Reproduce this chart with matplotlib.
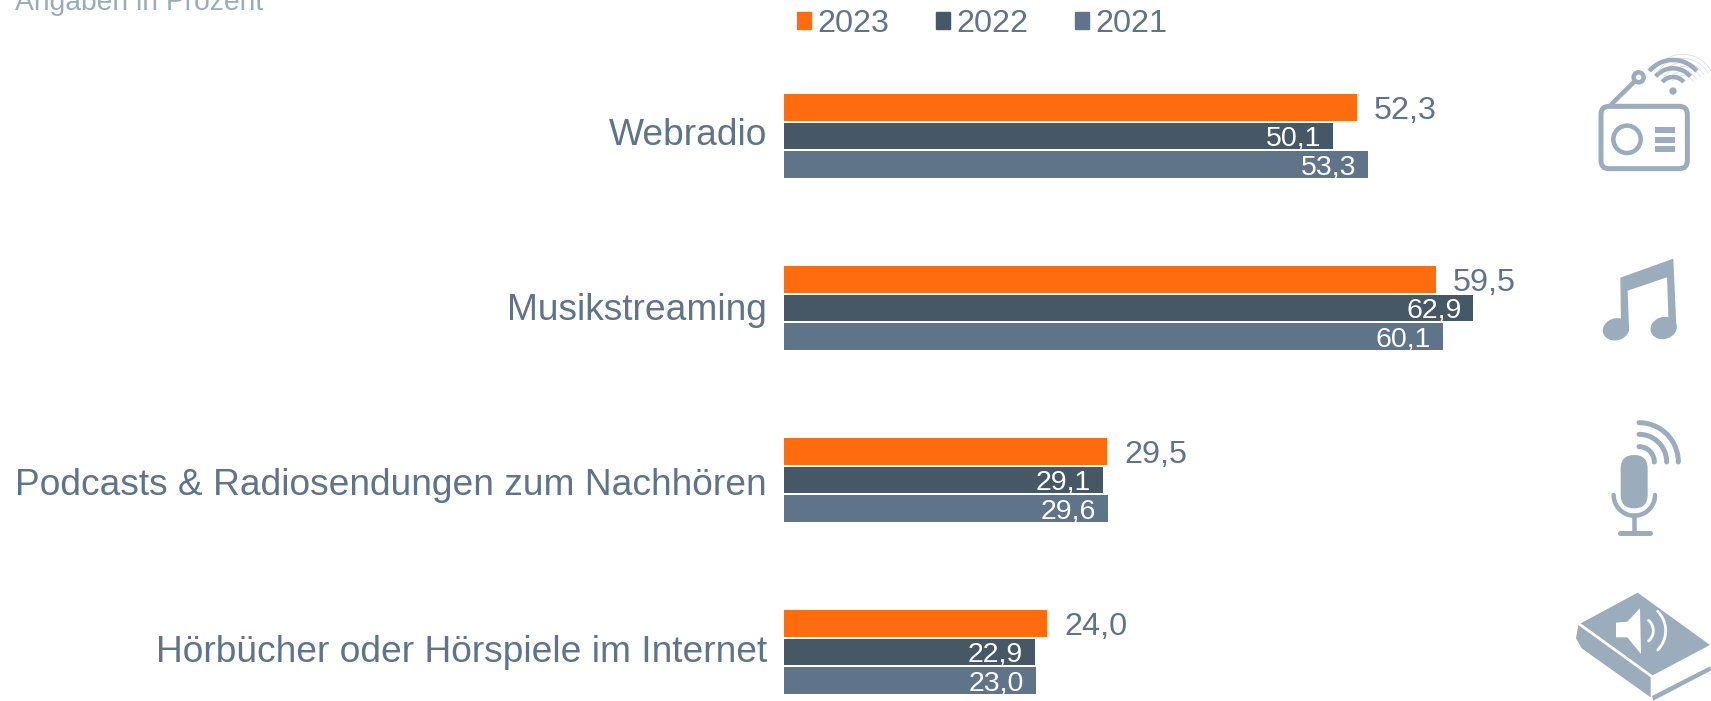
#!/usr/bin/env python3
# -*- coding: utf-8 -*-

import numpy as np
import matplotlib
matplotlib.use('Agg')
import matplotlib.pyplot as plt
from matplotlib.patches import Patch, Polygon, Circle, Ellipse, FancyBboxPatch, Rectangle
from matplotlib.transforms import ScaledTranslation

plt.rcParams['font.family'] = ['Liberation Sans', 'DejaVu Sans']

CATEGORIES = ['Webradio', 'Musikstreaming', 'Podcasts & Radiosendungen zum Nachhören',
              'Hörbücher oder Hörspiele im Internet']
YEARS = ['2023', '2022', '2021']
VALUES_2023 = [52.3, 59.5, 29.5, 24.0]
VALUES_2022 = [50.1, 62.9, 29.1, 22.9]
VALUES_2021 = [53.3, 60.1, 29.6, 23.0]
SUBTITLE = 'Angaben in Prozent'

ORANGE = '#FF6C10'
DARK = '#465866'
BLUE = '#5F7389'
ICON = '#9BACBC'
W, H = 1711, 701
PX = 0.72  # one pixel in points at dpi 100

fig = plt.figure(figsize=(W / 100, H / 100), dpi=100, facecolor='white')

# bars: x=0 sits at pixel 784, 10.96 px per percent, 172 px between the groups
ax = fig.add_axes([784 / W, 0, (W - 784) / W, 1])
ax.set_xlim(0, (W - 784) / 10.96)
ax.set_ylim((H - 136) / 172, -136 / 172)
for s in ax.spines.values():
    s.set_visible(False)
ax.xaxis.set_visible(False)
ax.set_facecolor('none')

pos = np.arange(len(CATEGORIES))
step = 28.5 / 172
height = 26.8 / 172
series = [VALUES_2023, VALUES_2022, VALUES_2021]
colors = [ORANGE, DARK, BLUE]

for i, (vals, col) in enumerate(zip(series, colors)):
    y = pos + (i - 1) * step
    ax.barh(y, vals, height=height, color=col, label=YEARS[i])
    for yy, v in zip(y, vals):
        txt = f'{v:.1f}'.replace('.', ',')
        if i == 0:
            ax.annotate(txt, (v, yy), xytext=(17 * PX, 0), textcoords='offset points',
                        ha='left', va='center_baseline', fontsize=23.3, color=BLUE)
        else:
            ax.annotate(txt, (v, yy), xytext=(-12 * PX, 0), textcoords='offset points',
                        ha='right', va='center_baseline', fontsize=20.5, color='white')

ax.set_yticks(pos)
ax.set_yticklabels(CATEGORIES, fontsize=26.75, color=BLUE)
ax.tick_params(axis='y', length=0, pad=17 * PX)
# the category labels are not quite centred on their groups in the original
for lab, dy in zip(ax.get_yticklabels(), [4.4, 1, -2, 3.3]):
    lab.set_transform(lab.get_transform() + ScaledTranslation(0, dy / 100, fig.dpi_scale_trans))

handles = [Patch(color=c, label=l) for c, l in zip(colors, YEARS)]
fig.legend(handles=handles, loc='upper left', bbox_to_anchor=(797 / W, 1 - 9 / H), ncols=3,
           frameon=False, fontsize=23.3, handlelength=0.43, handleheight=0.43,
           handletextpad=0.19, columnspacing=1.45, borderpad=0, borderaxespad=0,
           labelcolor=BLUE)

fig.text(15 / W, 1 - 10 / H, SUBTITLE, fontsize=20.3, color='#9AABBB', ha='left', va='baseline')

# icons, drawn on a pixel overlay
ov = fig.add_axes([0, 0, 1, 1])
ov.set_xlim(0, W)
ov.set_ylim(H, 0)
ov.axis('off')
ov.patch.set_alpha(0)


def sx(x, x0=1540):
    return x0 + x / 3


def sy(y, y0):
    return y0 + y / 3


def poly(points, y0, color=ICON):
    pts = [(sx(x), sy(y, y0)) for x, y in points]
    ov.add_patch(Polygon(pts, closed=True, facecolor=color, edgecolor='none'))


def arc(cx, cy, r, a1, a2, y0, lw, color=ICON, cap='round'):
    t = np.radians(np.linspace(a1, a2, 60))
    ov.plot(sx(cx + r * np.cos(t)), sy(cy - r * np.sin(t), y0), color=color, lw=lw * PX,
            solid_capstyle=cap)


def line(x1, y1, x2, y2, y0, lw, color=ICON):
    ov.plot([sx(x1), sx(x2)], [sy(y1, y0), sy(y2, y0)], color=color, lw=lw * PX, solid_capstyle='round')


# radio
Y0 = 30
ov.add_patch(FancyBboxPatch((sx(183), sy(229, Y0)), 259 / 3, 187 / 3, boxstyle='round,pad=0,rounding_size=8',
                            facecolor='none', edgecolor=ICON, lw=5 * PX))
ov.add_patch(Circle((sx(261), sy(328, Y0)), 41 / 3, facecolor='none', edgecolor=ICON, lw=4.5 * PX))
for top, bottom in [(291, 309), (320, 339), (348, 366)]:
    ov.add_patch(Rectangle((sx(345), sy(top, Y0)), 60 / 3, (bottom - top) / 3, facecolor=ICON, edgecolor='none'))
line(215, 222, 283, 155, Y0, 4.5)
ov.add_patch(Circle((sx(296), sy(142, Y0)), 15 / 3, facecolor='white', edgecolor=ICON, lw=4.5 * PX))
for r in [42, 68, 93]:
    arc(428, 172, r - 6, 30, 150, Y0, 0.8, color='#D8DEE4', cap='butt')
    arc(428, 172, r + 6, 30, 150, Y0, 0.8, color='#D8DEE4', cap='butt')
    arc(399, 183, r, 40, 140, Y0, 4.5, cap='butt')
ov.add_patch(Circle((sx(399), sy(183, Y0)), 11 / 3, facecolor=ICON, edgecolor='none'))

# note
poly([(241, 743), (400, 686), (409, 885), (386, 885), (381, 742), (263, 782), (267, 895), (243, 895)], Y0)
ov.add_patch(Ellipse((sx(228), sy(898, Y0)), 80 / 3, 66 / 3, angle=-15, facecolor=ICON, edgecolor='none'))
ov.add_patch(Ellipse((sx(371), sy(894, Y0)), 80 / 3, 66 / 3, angle=-15, facecolor=ICON, edgecolor='none'))

# microphone
Y1 = 400
ov.add_patch(FancyBboxPatch((sx(242), sy(165, Y1)), 81 / 3, 160 / 3, boxstyle='round,pad=0,rounding_size=13.5',
                            facecolor=ICON, edgecolor='none'))
arc(283, 285, 62, 180, 360, Y1, 4.5)
line(283, 345, 283, 400, Y1, 4.5)
line(240, 400, 330, 400, Y1, 5)
arc(297, 186, 46, 0, 90, Y1, 5)
arc(297, 186, 83, 0, 90, Y1, 5)
arc(297, 186, 118, 0, 90, Y1, 5)

# book
poly([(293, 578), (510, 735), (338, 826), (122, 670)], Y1)
poly([(115, 675), (332, 832), (332, 892), (125, 745), (108, 715)], Y1)
poly([(336, 888), (512, 798), (512, 812), (340, 902)], Y1)
poly([(228, 668), (262, 665), (300, 625), (303, 762), (262, 712), (228, 712)], Y1, color='white')
arc(295, 692, 82, -45, 45, Y1, 2.8, color='white')
arc(300, 692, 40, -50, 50, Y1, 2.8, color='white')

fig.savefig('out.png', dpi=100, facecolor='white')
plt.close()
